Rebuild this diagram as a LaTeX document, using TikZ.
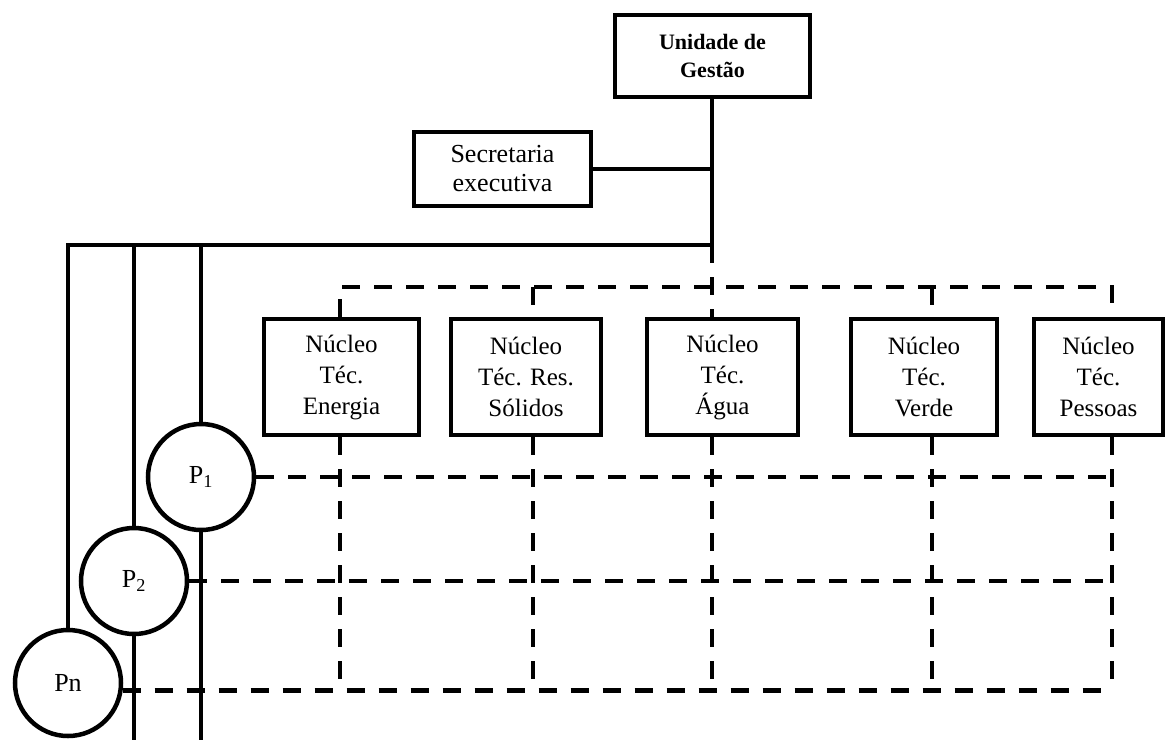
\documentclass[tikz,border=0pt]{standalone}
\usepackage{fontspec}
\setmainfont{Liberation Serif}

\tikzset{
  orgbox/.style={draw, line width=4.5pt, inner sep=0pt, align=center},
  nucbox/.style={orgbox, minimum height=116pt, font=\fontsize{25}{31}\selectfont},
  pcircle/.style={draw, circle, line width=4.5pt, inner sep=0pt, minimum size=106pt,
    font=\fontsize{26}{30}\selectfont},
  solidline/.style={line width=4.5pt},
  dashline/.style={line width=4.5pt, dash pattern=on 18pt off 14pt},
}

\begin{document}
\begin{tikzpicture}[x=1pt,y=-1pt]
  \useasboundingbox (0,0) rectangle (1173,740);

  % management and secretary
  \node[orgbox, minimum width=195pt, minimum height=82pt,
        font=\bfseries\fontsize{22}{28}\selectfont] (ug) at (712.5,56) {Unidade de\\Gestão};
  \node[orgbox, minimum width=177pt, minimum height=74pt,
        font=\fontsize{26}{29}\selectfont] (sec) at (502.5,169) {Secretaria\\executiva};

  % technical nuclei
  \node[nucbox, minimum width=155pt] (en) at (341.5,377) {Núcleo\\Téc.\\Energia};
  \node[nucbox, minimum width=150pt] (rs) at (526,377) {Núcleo\\Téc. Res.\\Sólidos};
  \node[nucbox, minimum width=151pt] (ag) at (722.5,377) {Núcleo\\Téc.\\Água};
  \node[nucbox, minimum width=146pt] (ve) at (924,377) {Núcleo\\Téc.\\Verde};
  \node[nucbox, minimum width=129pt] (pe) at (1098.5,377) {Núcleo\\Téc.\\Pessoas};

  % projects
  \node[pcircle] (p1) at (201,477) {P\textsubscript{1}};
  \node[pcircle] (p2) at (134,581) {P\textsubscript{2}};
  \node[pcircle] (pn) at (68,683) {Pn};

  \coordinate (j) at (712,245);
  \coordinate (col1) at (340,287);
  \coordinate (col2) at (533,287);
  \coordinate (col3) at (712,287);
  \coordinate (col4) at (932,287);
  \coordinate (col5) at (1112,287);
  \coordinate (bot1) at (340,690);
  \coordinate (bot2) at (533,690);
  \coordinate (bot3) at (712,690);
  \coordinate (bot4) at (932,690);
  \coordinate (bot5) at (1112,690);
  \coordinate (end2) at (134,740);
  \coordinate (end1) at (201,740);

  % solid hierarchy
  \draw[solidline] (ug.south -| j) -- (j);
  \draw[solidline] (sec.east) -- (sec.east -| j);
  \draw[solidline] (j) -- (pn.north |- j) -- (pn.north);
  \draw[solidline] (p2.north |- j) -- (p2.north);
  \draw[solidline] (p1.north |- j) -- (p1.north);
  \draw[solidline] (p2.south) -- (end2);
  \draw[solidline] (p1.south) -- (end1);

  % dashed matrix
  \draw[dashline] (col1 |- en.north) -- (col1) -- (col5) -- (col5 |- pe.north);
  \draw[dashline] (col2) -- (col2 |- rs.north);
  \draw[dashline] (j) -- (j |- ag.north);
  \draw[dashline] (col4) -- (col4 |- ve.north);
  \draw[dashline] (col1 |- en.south) -- (bot1);
  \draw[dashline] (col2 |- rs.south) -- (bot2);
  \draw[dashline] (col3 |- ag.south) -- (bot3);
  \draw[dashline] (col4 |- ve.south) -- (bot4);
  \draw[dashline] (col5 |- pe.south) -- (bot5);
  \draw[dashline] (p1.east) -- (p1.east -| col5);
  \draw[dashline] (p2.east) -- (p2.east -| col5);
  \draw[dashline] (pn.-8) -- (pn.-8 -| col5);
\end{tikzpicture}
\end{document}
